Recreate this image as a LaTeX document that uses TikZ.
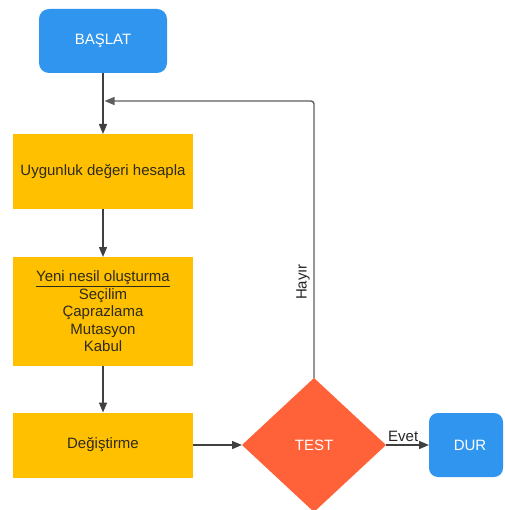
\documentclass[tikz,border=0pt]{standalone}
\usepackage{fontspec}
\setmainfont{Liberation Sans}
\usetikzlibrary{shapes.geometric,arrows.meta}

\definecolor{termblue}{HTML}{2F95EE}
\definecolor{stepyellow}{HTML}{FFC000}
\definecolor{testred}{HTML}{FF6238}
\definecolor{stepink}{HTML}{2E2A1E}
\definecolor{linkgray}{HTML}{404040}
\definecolor{loopgray}{HTML}{5E5E5E}

\tikzset{
  every node/.style={font=\fontsize{15}{17.5}\selectfont},
  terminal/.style={draw=none, fill=termblue, text=white, rounded corners=10pt,
    minimum width=128pt, minimum height=64pt, inner sep=0pt, outer sep=0pt},
  stepbox/.style={draw=none, fill=stepyellow, text=stepink,
    minimum width=180pt, inner sep=0pt, outer sep=0pt, align=center},
  testbox/.style={diamond, draw=none, fill=testred, text=white,
    minimum width=144pt, minimum height=134pt, inner sep=0pt, outer sep=0pt},
  link/.style={draw=linkgray, line width=1.4pt,
    -{Triangle[length=10pt,width=8pt]}},
  backlink/.style={draw=loopgray, line width=1.4pt, rounded corners=3pt,
    -{Triangle[length=10pt,width=8pt]}},
  edgelabel/.style={text=black!85}
}

\begin{document}
\begin{tikzpicture}[x=1pt,y=-1pt]
  \useasboundingbox[fill=white] (0,0) rectangle (504,510);

  % process chain
  \node[terminal] (start) at (103,41) {BAŞLAT};
  \node[stepbox, minimum height=75pt] (fitness) at (103,171.5) {Uygunluk değeri hesapla};
  \node[stepbox, minimum height=109pt] (newgen) at (103,311.5)
    {\underline{Yeni nesil oluşturma}\\Seçilim\\Çaprazlama\\Mutasyon\\Kabul};
  \node[stepbox, minimum height=65pt] (replace) at (103,445) {Değiştirme};
  \node[testbox] (test) at (314,445) {TEST};
  \node[terminal, minimum width=74pt, rounded corners=9pt, text width=74pt,
        align=center] (stop) at (466,445) {\hspace*{8pt}DUR};

  % forward arrows
  \draw[link] (start) -- (fitness);
  \draw[link] (fitness) -- (newgen);
  \draw[link] (newgen) -- (replace);
  \draw[link] (replace) -- (test);
  \draw[link] (test) -- node[edgelabel, above, pos=0.4, inner sep=3pt] {Evet} (stop);

  % loop back to the fitness step
  \coordinate (rejoin) at (104.5,101);
  \coordinate (hayir) at (303,282);
  \draw[backlink] (test.north) |- (rejoin);
  \node[edgelabel, rotate=90, inner sep=0pt] (nolabel) at (hayir) {Hayır};
\end{tikzpicture}
\end{document}
